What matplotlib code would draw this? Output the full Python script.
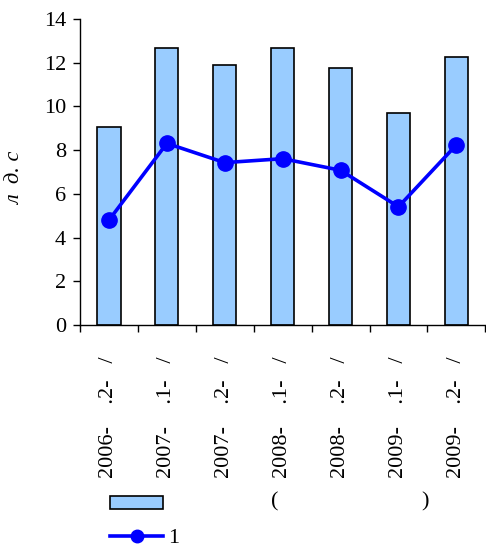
import numpy as np
import matplotlib.pyplot as plt
from matplotlib.lines import Line2D
from matplotlib.patches import Patch

categories = ["2006-    .2-   /", "2007-    .1-   /", "2007-    .2-   /",
              "2008-    .1-   /", "2008-    .2-   /", "2009-    .1-   /",
              "2009-    .2-   /"]
bar_values = [9.07, 12.69, 11.9, 12.69, 11.74, 9.68, 12.25]
line_values = [4.8, 8.31, 7.43, 7.61, 7.08, 5.41, 8.24]
y_ticks = [0, 2, 4, 6, 8, 10, 12, 14]

plt.rcParams['font.family'] = ['Liberation Serif', 'DejaVu Serif']
plt.rcParams['font.size'] = 16

fig = plt.figure(figsize=(4.86, 5.5), dpi=100)
ax = fig.add_axes([0.1646, 0.409, 0.834, 0.5565])

x = np.arange(len(categories))
ax.bar(x, bar_values, width=0.4, color='#99CCFF', edgecolor='black', linewidth=1.2, zorder=2)
ax.plot(x, line_values, color='#0000FF', linewidth=2.6, marker='o', markersize=11, zorder=3)

ax.set_xlim(-0.5, len(categories) - 0.5)
ax.set_ylim(0, 14)
ax.set_yticks(y_ticks)
ax.set_xticks(x)
ax.set_xticklabels(categories, rotation=90)
ax.set_xticks(np.arange(-0.5, len(categories)), minor=True)
ax.tick_params(axis='x', which='major', length=0, pad=23)
ax.tick_params(axis='x', which='minor', length=5, width=1, direction='out')
ax.tick_params(axis='y', length=5, width=1, direction='out', pad=5)

for s in ['top', 'right']:
    ax.spines[s].set_visible(False)
ax.spines['left'].set_linewidth(1)
ax.spines['bottom'].set_linewidth(1)

ax.set_ylabel("л  д. с", fontstyle='italic')
ax.yaxis.set_label_coords(-0.136, 0.48)

handles = [Patch(facecolor='#99CCFF', edgecolor='black', linewidth=1.2),
           Line2D([], [], color='#0000FF', linewidth=2.6, marker='o', markersize=9)]
fig.legend(handles, [' ', '1'], loc='upper left', bbox_to_anchor=(0.226, 0.099),
           frameon=False, handlelength=2.4, handleheight=0.55, handletextpad=0.2,
           labelspacing=0.6, borderaxespad=0, borderpad=0)
fig.text(275 / 486, 1 - 502 / 550, "(", ha='center', va='center')
fig.text(425 / 486, 1 - 502 / 550, ")", ha='center', va='center')

plt.savefig("out.png", dpi=100)
